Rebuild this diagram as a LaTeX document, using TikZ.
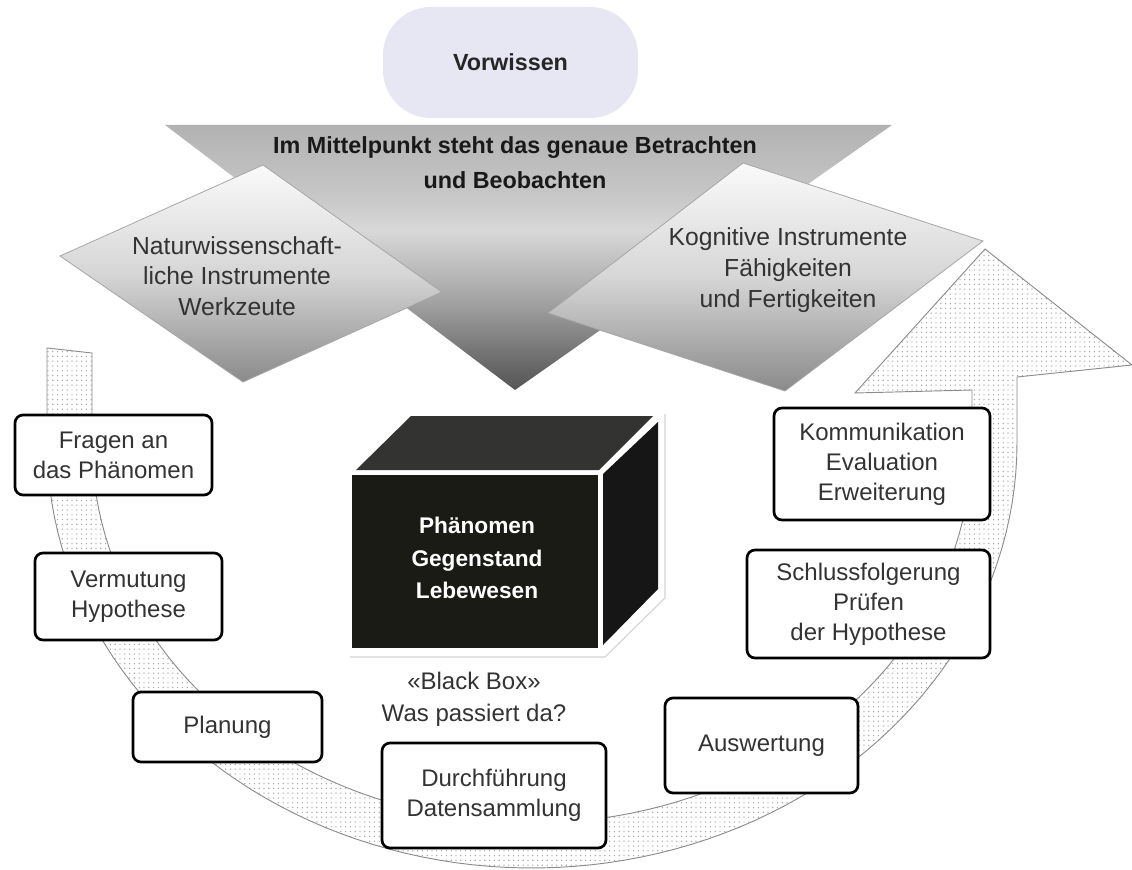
\documentclass[tikz,border=0pt]{standalone}
\usepackage{fontspec}
\setmainfont{Liberation Sans}
\usetikzlibrary{patterns.meta}
\definecolor{vorw}{HTML}{E7E6F3}
\definecolor{tA}{HTML}{555555}
\definecolor{tB}{HTML}{6A6A6A}
\definecolor{tC}{HTML}{A4A4A4}
\definecolor{tD}{HTML}{D8D8D8}
\definecolor{tE}{HTML}{C6C6C6}
\definecolor{tF}{HTML}{B2B2B2}
\definecolor{qA}{HTML}{8A8A8A}
\definecolor{qB}{HTML}{D6D6D6}
\definecolor{qC}{HTML}{FAFAFA}
\definecolor{boxtxt}{HTML}{333333}
\definecolor{cubetop}{HTML}{333331}
\definecolor{cubefront}{HTML}{1B1B16}
\definecolor{cuberight}{HTML}{161616}
\pgfdeclareverticalshading{trishade}{100bp}{color(0bp)=(tA); color(25bp)=(tA); color(30bp)=(tB); color(42bp)=(tC); color(55bp)=(tD); color(62bp)=(tE); color(75bp)=(tF); color(100bp)=(tF)}
\pgfdeclareverticalshading{quadshade}{100bp}{color(0bp)=(qA); color(25bp)=(qA); color(50bp)=(qB); color(75bp)=(qC); color(100bp)=(qC)}
\begin{document}
\begin{tikzpicture}[x=0.75pt,y=-0.75pt,
  stepbox/.style={draw=black, line width=2pt, fill=white, rounded corners=6pt,
    align=center, inner sep=0pt, outer sep=0pt, text=boxtxt,
    font=\fontsize{18}{22.5}\selectfont},
  quadtext/.style={align=center, text=boxtxt, font=\fontsize{18.5}{23}\selectfont},
  quadfill/.style={shading=quadshade, draw=gray!70, line width=0.6pt},
  band/.style={preaction={fill=white}, pattern={Dots[distance=3.6pt, radius=0.55pt]}, pattern color=gray!70, draw=gray!90, line width=0.7pt}
]
\useasboundingbox (0,0) rectangle (1132,870);

% Vorwissen
\node[fill=vorw, rounded corners=36pt, minimum width=191.25pt, minimum height=83.25pt,
  inner sep=0pt, font=\bfseries\fontsize{17.5}{21}\selectfont, text=black!85] (vorwissen) at (510.5,62.5) {Vorwissen};

% big triangle
\shade[shading=trishade] (165,125) -- (892,125) -- (515,390) -- cycle;
\node[align=center, font=\bfseries\fontsize{17.5}{26}\selectfont, text=black!90] (mittelpunkt) at (515,162.5)
  {Im Mittelpunkt steht das genaue Betrachten\\und Beobachten};

% cycle band with arrowhead
\path[band] (47,348) -- (47,443)
  -- plot[domain=180:0, samples=90] ({532+485*cos(\x)},{443+425*sin(\x)})
  -- (1017,377) -- (1132,365) -- (985,249) -- (855,393) -- (972,390) -- (972,443)
  -- plot[domain=0:180, samples=90] ({532+440*cos(\x)},{443+380*sin(\x)})
  -- (92,353) -- cycle;

% side quads
\shadedraw[quadfill] (60,256) -- (263,165) -- (442,292) -- (243,382) -- cycle;
\node[quadtext] (natur) at (237,276) {Naturwissenschaft-\\liche Instrumente\\Werkzeute};
\shadedraw[quadfill] (548,313) -- (743,163) -- (983,241) -- (785,391) -- cycle;
\node[quadtext] (kognitiv) at (788,270) {Kognitive Instrumente\\Fähigkeiten\\und Fertigkeiten};

% black box
\draw[gray!35, line width=0.8pt] (350,657) -- (605,657) -- (665,598) -- (665,414);
\fill[cubetop] (356,470) -- (411,416) -- (653,416) -- (599,470) -- cycle;
\fill[cuberight] (603,474) -- (658,422) -- (658,589) -- (603,645) -- cycle;
\fill[cubefront] (352,475) rectangle (598,648);
\node[align=center, text=white, font=\bfseries\fontsize{17}{24.5}\selectfont] (phaenomen) at (477,558)
  {Phänomen\\Gegenstand\\Lebewesen};
\node[align=center, text=boxtxt, font=\fontsize{18}{24}\selectfont] (blackbox) at (474,699)
  {«Black Box»\\Was passiert da?};

% step boxes
\node[stepbox, minimum width=147.75pt, minimum height=60pt] (fragen) at (113.5,455) {Fragen an\\das Phänomen};
\node[stepbox, minimum width=140.25pt, minimum height=65.25pt] (vermutung) at (128.5,596.5) {Vermutung\\Hypothese};
\node[stepbox, minimum width=141.75pt, minimum height=52.5pt] (planung) at (227.5,727) {Planung};
\node[stepbox, minimum width=168pt, minimum height=78.75pt] (durch) at (494,795.5) {Durchführung\\Datensammlung};
\node[stepbox, minimum width=144.75pt, minimum height=71.25pt] (auswertung) at (761.5,745.5) {Auswertung};
\node[stepbox, minimum width=182.25pt, minimum height=81pt] (schluss) at (868.5,604) {Schlussfolgerung\\Prüfen\\der Hypothese};
\node[stepbox, minimum width=162pt, minimum height=84pt] (kommunikation) at (882,464) {Kommunikation\\Evaluation\\Erweiterung};
\end{tikzpicture}
\end{document}
